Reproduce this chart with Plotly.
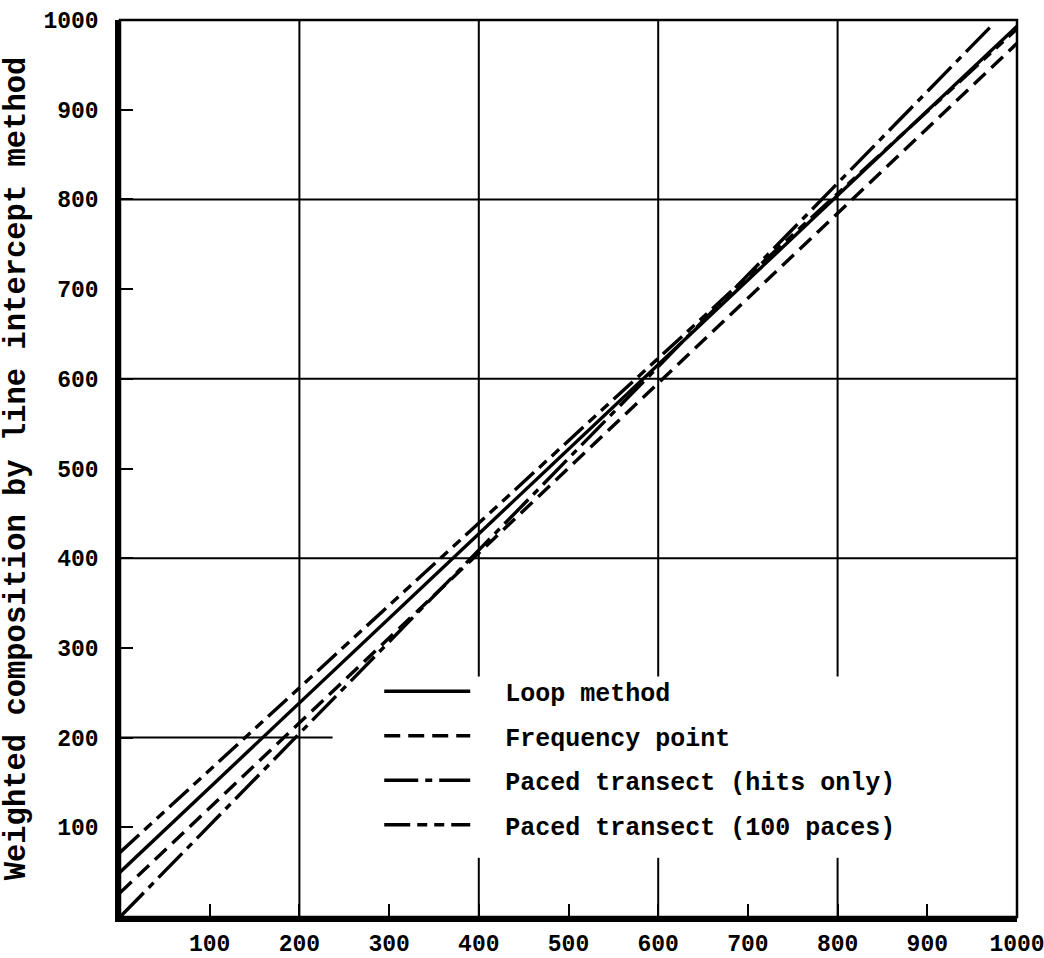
import plotly.graph_objects as go

# ---- data ----
loop_x = [0, 1000]
loop_y = [50, 993]

freq_x = [0, 1000]
freq_y = [27, 974]

hits_x = [0, 975]
hits_y = [0, 997]

paces_x = [0, 1000]
paces_y = [72, 990]

tick_vals = [100, 200, 300, 400, 500, 600, 700, 800, 900, 1000]
tick_text = ["100", "200", "300", "400", "500", "600", "700", "800", "900", "1000"]
grid_vals = [200, 400, 600, 800]

FONT = "Liberation Mono, Courier New, monospace"
PAD = "\u00a0\u00a0"

fig = go.Figure()

series = [
    ("Loop method", loop_x, loop_y, "solid"),
    ("Frequency point", freq_x, freq_y, "16px,8px"),
    ("Paced transect (hits only)", hits_x, hits_y, "34px,7px,7px,7px"),
    ("Paced transect (100 paces)", paces_x, paces_y, "26px,7px,10px,7px,10px,7px"),
]
for i, (name, xs, ys, dash) in enumerate(series):
    fig.add_trace(go.Scatter(
        x=xs, y=ys, mode="lines", name=PAD + name, legendgroup=str(i),
        line=dict(color="black", width=3.4, dash=dash),
    ))

shapes = []
gl = dict(color="black", width=2)
# legend gap in the grid
gap_lo, gap_hi = 66, 268
for g in grid_vals:
    # vertical
    if g == 200:
        shapes.append(dict(type="line", xref="x", yref="y", x0=g, x1=g, y0=0, y1=1000, line=gl, layer="below"))
    else:
        shapes.append(dict(type="line", xref="x", yref="y", x0=g, x1=g, y0=0, y1=gap_lo, line=gl, layer="below"))
        shapes.append(dict(type="line", xref="x", yref="y", x0=g, x1=g, y0=gap_hi, y1=1000, line=gl, layer="below"))
    # horizontal
    if g == 200:
        shapes.append(dict(type="line", xref="x", yref="y", x0=0, x1=237, y0=g, y1=g, line=gl, layer="below"))
    else:
        shapes.append(dict(type="line", xref="x", yref="y", x0=0, x1=1000, y0=g, y1=g, line=gl, layer="below"))
# frame
shapes.append(dict(type="rect", xref="paper", yref="paper", x0=0, x1=1, y0=0, y1=1,
                   line=dict(color="black", width=2.5), layer="above"))

axis_common = dict(
    range=[0, 1000], showgrid=False, zeroline=False,
    showline=True, linecolor="black", linewidth=4.5,
    ticks="inside", ticklen=13, tickwidth=2, tickcolor="black",
    tickvals=tick_vals, ticktext=tick_text,
    tickfont=dict(family=FONT, size=23, color="black", weight="bold"),
    fixedrange=True, automargin=False, ticklabeloverflow="allow",
)

fig.update_layout(
    width=1044, height=958,
    margin=dict(l=120, r=27, t=20, b=41),
    paper_bgcolor="white", plot_bgcolor="white",
    shapes=shapes,
    xaxis=dict(**axis_common, ticklabelstandoff=2),
    yaxis=dict(**axis_common, ticklabelstandoff=12,
               title=dict(text="Weighted composition by line intercept method",
                          font=dict(family=FONT, size=30.5, color="black", weight="bold"),
                          standoff=10)),
    showlegend=True,
    legend=dict(
        x=0.289, y=0.277, xanchor="left", yanchor="top",
        bgcolor="rgba(0,0,0,0)", borderwidth=0,
        font=dict(family=FONT, size=25, color="black", weight="bold"),
        itemwidth=86, tracegroupgap=9, traceorder="grouped",
    ),
)

# remove the default page margin so the figure fills the window exactly
fig.write_html(
    "out.html",
    config={"displayModeBar": False},
    post_script="document.body.style.margin='0';document.body.style.overflow='hidden';",
)
